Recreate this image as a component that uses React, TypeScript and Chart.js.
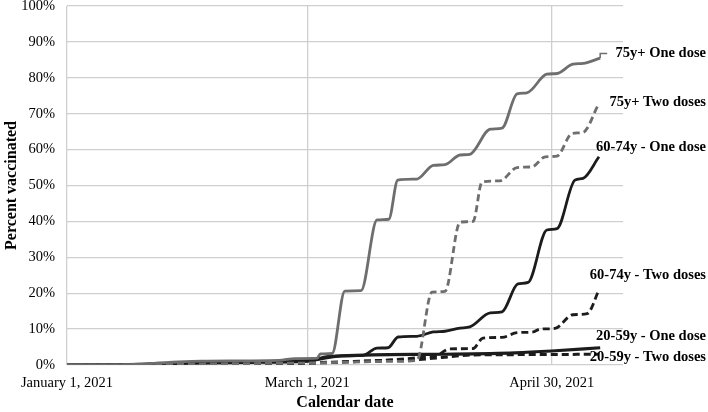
import React, { useEffect, useRef } from "react";
import { Chart, registerables } from "chart.js";

Chart.register(...registerables);

// X axis: days since January 1, 2021
const tickDays = [0, 59, 119];
const tickLabels = ["January 1, 2021", "March 1, 2021", "April 30, 2021"];

const seriesNames = [
  "75y+ One dose",
  "75y+ Two doses",
  "60-74y - One dose",
  "60-74y - Two doses",
  "20-59y - One dose",
  "20-59y - Two doses",
];

const days75One = [0, 15, 25, 33, 52, 56, 61.4, 62.2, 65.1, 68.2, 72.2, 76.1, 79, 81.2, 85.9, 89.9, 92.8, 96.5, 98.9, 103.9, 106.8, 110.5, 112.9, 117.8, 120.3, 124.2, 126.7, 130.9];
const vals75One = [0, 0.1, 0.7, 1.1, 1.3, 1.8, 1.9, 3.1, 3.2, 20.6, 20.7, 40.4, 40.6, 51.5, 51.8, 55.6, 55.8, 58.5, 58.7, 65.7, 66.0, 75.5, 75.8, 81.0, 81.2, 83.8, 84.0, 85.5];

const days75Two = [0, 20, 35, 55, 62, 70, 80, 85.9, 89.6, 92.8, 96.5, 99.7, 101.9, 106.3, 110.5, 114.2, 117.4, 120.3, 124, 126.7, 130.4];
const vals75Two = [0, 0.05, 0.3, 0.5, 0.6, 0.8, 1.0, 1.3, 20.3, 20.5, 39.8, 40.0, 51.0, 51.3, 55.0, 55.2, 58.0, 58.2, 64.5, 64.8, 72.4];

const days60One = [0, 20, 30, 45, 59, 64.6, 72.7, 76.1, 78.8, 81.3, 85.9, 89.9, 92.8, 96.5, 98.9, 103.9, 106.8, 110.7, 113.2, 117.8, 120.3, 124.7, 126.7, 130.6];
const vals60One = [0, 0.1, 0.5, 0.7, 1.0, 2.5, 2.7, 4.7, 4.8, 7.8, 8.0, 9.2, 9.4, 10.3, 10.6, 14.5, 14.8, 22.6, 23.0, 37.6, 38.0, 51.5, 52.0, 58.0];

const days60Two = [0, 30, 50, 60, 70, 80, 87, 90.5, 94, 99.7, 102.1, 106.8, 110.5, 114.4, 116.1, 119.8, 124.2, 127.7, 130.6];
const vals60Two = [0, 0.1, 0.3, 0.5, 0.9, 1.5, 2.1, 2.5, 4.5, 4.6, 7.5, 7.7, 9.0, 9.2, 10.0, 10.2, 14.0, 14.3, 20.9];

const days20One = [0, 15, 30, 45, 59, 66, 75, 92, 110, 119, 130.9];
const vals20One = [0, 0.1, 0.6, 0.9, 1.2, 2.4, 2.8, 3.0, 3.4, 3.9, 4.8];

const days20Two = [0, 30, 50, 60, 70, 80, 86, 92, 100, 115, 130.6];
const vals20Two = [0, 0.05, 0.3, 0.6, 1.0, 1.3, 1.5, 2.1, 2.8, 2.9, 3.0];

const GRAY = "#6e6e6e";
const BLACK = "#1c1c1c";
const FONT = "'Liberation Serif', 'Times New Roman', serif";

const labelOffsets = [-4.5, -3, -10, -15, -12, 3];
const leaders = [true, false, false, false, false, false];

const toPoints = (d: number[], v: number[]) => d.map((x, i) => ({ x, y: v[i] }));

const endLabels = {
  id: "endLabels",
  afterDatasetsDraw(chart: any) {
    const ctx = chart.ctx;
    ctx.save();
    ctx.font = `bold 14.5px ${FONT}`;
    ctx.fillStyle = "#000";
    ctx.textAlign = "right";
    ctx.textBaseline = "middle";
    chart.data.datasets.forEach((ds: any, i: number) => {
      const meta = chart.getDatasetMeta(i);
      const pt = meta.data[meta.data.length - 1];
      if (!pt) return;
      const y = pt.y + labelOffsets[i];
      if (leaders[i]) {
        ctx.strokeStyle = ds.borderColor;
        ctx.lineWidth = 1.5;
        ctx.setLineDash([]);
        ctx.beginPath();
        ctx.moveTo(pt.x, pt.y);
        ctx.lineTo(pt.x, y);
        ctx.lineTo(pt.x + 7, y);
        ctx.stroke();
      }
      ctx.fillText(seriesNames[i], chart.width - 2, y);
    });
    ctx.restore();
  },
};

export default function App() {
  const ref = useRef<HTMLCanvasElement>(null);

  useEffect(() => {
    if (!ref.current) return;
    const mk = (i: number, d: number[], v: number[], color: string, dashed: boolean, width = 2.8) => ({
      label: seriesNames[i],
      data: toPoints(d, v),
      borderColor: color,
      backgroundColor: color,
      borderWidth: width,
      borderDash: dashed ? [7, 4] : [],
      pointRadius: 0,
      cubicInterpolationMode: "monotone" as const,
      fill: false,
    });
    const chart = new Chart(ref.current, {
      type: "line",
      data: {
        datasets: [
          mk(0, days75One, vals75One, GRAY, false),
          mk(1, days75Two, vals75Two, GRAY, true),
          mk(2, days60One, vals60One, BLACK, false),
          mk(3, days60Two, vals60Two, BLACK, true),
          mk(4, days20One, vals20One, BLACK, false, 3.2),
          mk(5, days20Two, vals20Two, BLACK, true, 3),
        ],
      },
      options: {
        animation: false,
        responsive: false,
        layout: { padding: { left: 0, right: 85, top: 6, bottom: 0 } },
        plugins: { legend: { display: false }, tooltip: { enabled: false } },
        scales: {
          x: {
            type: "linear",
            min: 0,
            max: 136.5,
            afterBuildTicks: (scale: any) => {
              scale.ticks = tickDays.map((v) => ({ value: v }));
            },
            afterFit: (scale: any) => {
              scale.height = 47;
              scale.paddingLeft = 0;
              scale.paddingRight = 0;
            },
            ticks: {
              autoSkip: false,
              maxRotation: 0,
              padding: 9,
              color: "#000",
              font: { family: FONT, size: 14.5 },
              callback: (v: any) => {
                const idx = tickDays.indexOf(Number(v));
                return idx >= 0 ? tickLabels[idx] : "";
              },
            },
            grid: { color: "#cfcfcf", lineWidth: 1.3, drawTicks: false },
            border: { display: false },
            title: {
              display: true,
              text: "Calendar date",
              color: "#000",
              font: { family: FONT, size: 16, weight: "bold" },
              padding: { top: 0, bottom: 0 },
            },
          },
          y: {
            min: 0,
            max: 100,
            afterFit: (scale: any) => {
              scale.width = 67;
              scale.paddingTop = 0;
              scale.paddingBottom = 0;
            },
            ticks: {
              stepSize: 10,
              padding: 12,
              color: "#000",
              font: { family: FONT, size: 14.5 },
              callback: (v: any) => `${v}%`,
            },
            grid: { color: "#cfcfcf", lineWidth: 1.3, drawTicks: false },
            border: { display: false },
            title: {
              display: true,
              text: "Percent vaccinated",
              color: "#000",
              font: { family: FONT, size: 16, weight: "bold" },
              padding: { top: 2, bottom: 0 },
            },
          },
        },
      },
      plugins: [endLabels],
    });
    return () => chart.destroy();
  }, []);

  return (
    <div style={{ position: "absolute", left: 0, top: 0, width: 708, height: 412, background: "#fff" }}>
      <canvas ref={ref} width={708} height={412} style={{ display: "block" }} />
    </div>
  );
}
